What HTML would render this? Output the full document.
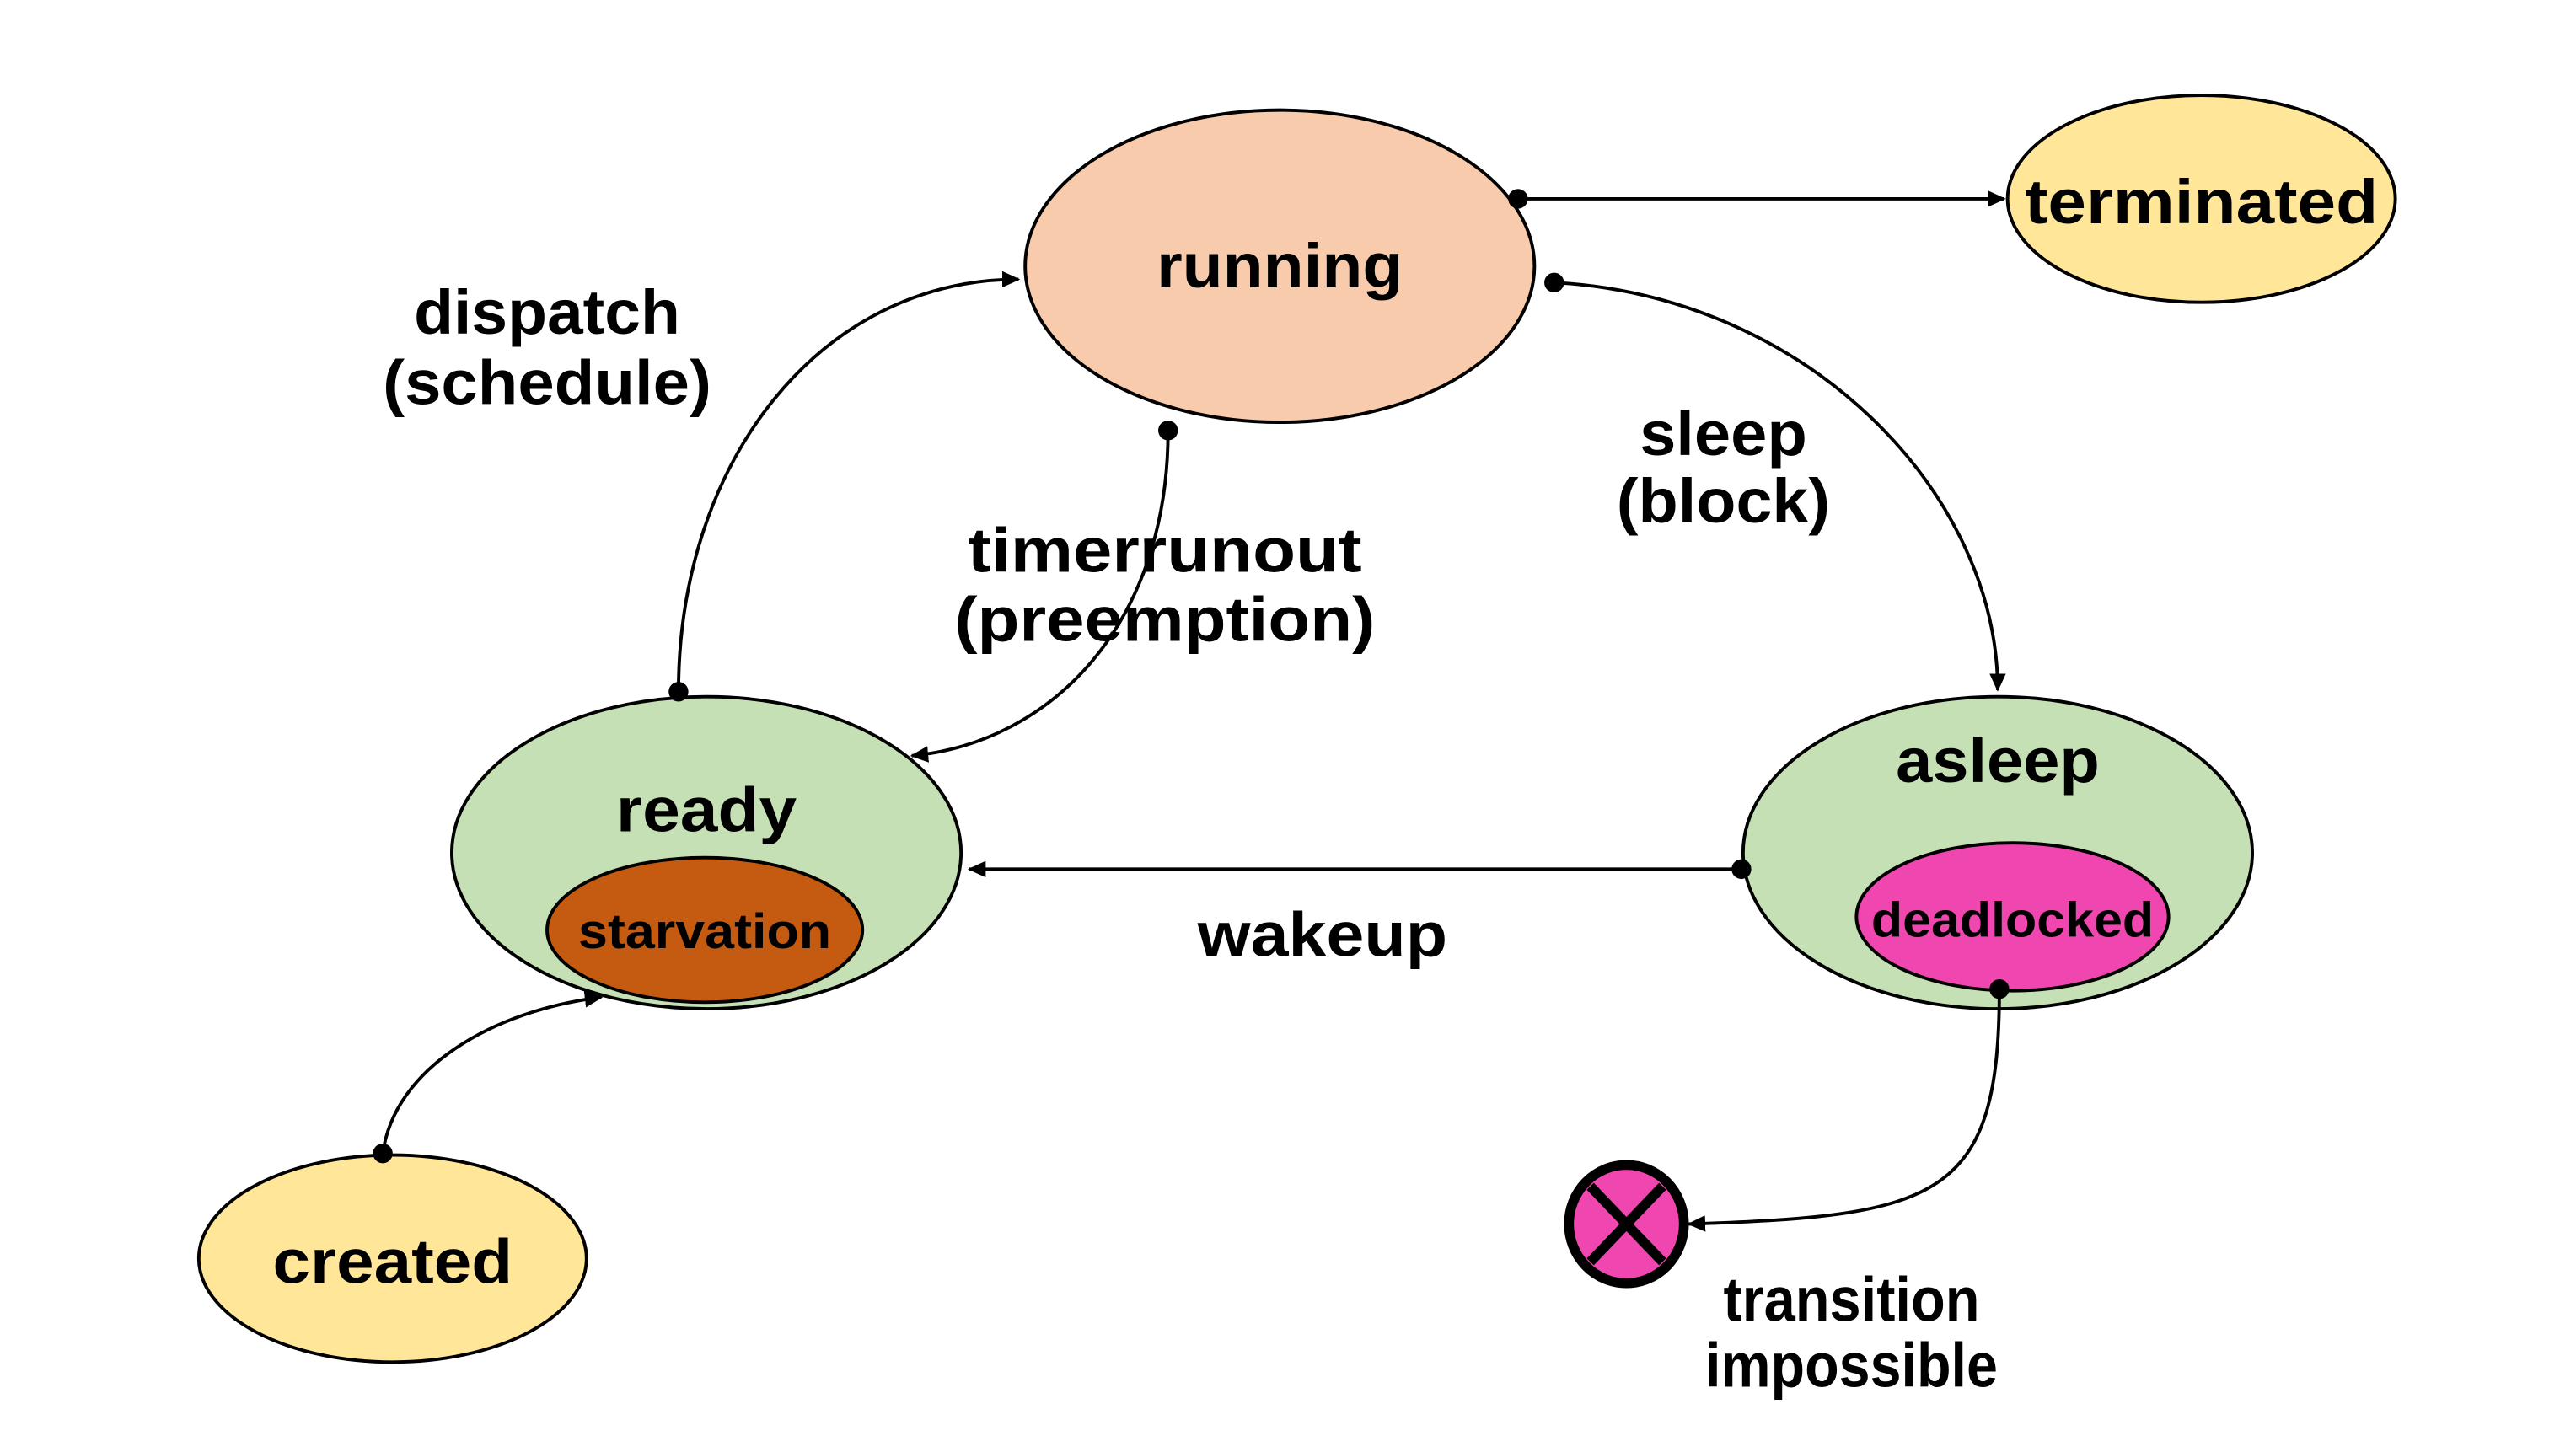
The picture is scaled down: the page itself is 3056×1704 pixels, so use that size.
<!DOCTYPE html>
<html><head><meta charset="utf-8"><style>
html,body{margin:0;padding:0;background:#fff;}
svg{display:block;}
text{font-family:"Liberation Sans",sans-serif;font-weight:bold;fill:#000;text-anchor:middle;}
</style></head><body>
<svg width="3056" height="1704" viewBox="0 0 1568 874" preserveAspectRatio="none" xmlns="http://www.w3.org/2000/svg">
<defs>
<marker id="a" markerWidth="12" markerHeight="12" refX="10" refY="6" orient="auto" markerUnits="userSpaceOnUse">
<path d="M0,1 L11,6 L0,11 Z" fill="#000"/></marker>
</defs>
<g stroke="#000" stroke-width="2">
<ellipse cx="779" cy="162" rx="155" ry="95" fill="#f8cbad"/>
<ellipse cx="1340" cy="121" rx="118" ry="63" fill="#ffe699"/>
<ellipse cx="430" cy="519" rx="155" ry="95" fill="#c5e0b4"/>
<ellipse cx="429" cy="566" rx="96" ry="44" fill="#c55a11"/>
<ellipse cx="1216" cy="519" rx="155" ry="95" fill="#c5e0b4"/>
<ellipse cx="1225" cy="558" rx="95" ry="45" fill="#f046b0"/>
<ellipse cx="239" cy="766" rx="118" ry="63" fill="#ffe699"/>
</g>
<g stroke="#000" stroke-width="2" fill="none" marker-end="url(#a)">
<path d="M924,121 L1220,121"/>
<path d="M413,421 C413,280 500,170 620,170"/>
<path d="M711,262 C711,380 640,452 555,460"/>
<path d="M946,172 C1100,180 1216,300 1216,420"/>
<path d="M1060,529 L590,529"/>
<path d="M233,702 C240,650 300,615 366,607"/>
<path d="M1217,602 C1217,730 1180,740 1028,745"/>
</g>
<g fill="#000">
<circle cx="924" cy="121" r="6"/><circle cx="413" cy="421" r="6"/><circle cx="711" cy="262" r="6"/>
<circle cx="946" cy="172" r="6"/><circle cx="1060" cy="529" r="6"/><circle cx="233" cy="702" r="6"/>
<circle cx="1217" cy="602" r="6"/>
</g>
<g>
<ellipse cx="990" cy="745" rx="35" ry="36" fill="#f046b0" stroke="#000" stroke-width="6"/>
<path d="M968,722 L1012,768 M1012,722 L968,768" stroke="#000" stroke-width="6"/>
</g>
<g font-size="38">
<text x="779" y="175" textLength="150" lengthAdjust="spacingAndGlyphs">running</text>
<text x="1340" y="136" textLength="215" lengthAdjust="spacingAndGlyphs">terminated</text>
<text x="430" y="506" textLength="110" lengthAdjust="spacingAndGlyphs">ready</text>
<text x="1216" y="476" textLength="124" lengthAdjust="spacingAndGlyphs">asleep</text>
<text x="239" y="781" textLength="146" lengthAdjust="spacingAndGlyphs">created</text>
<text x="333" y="203" textLength="162" lengthAdjust="spacingAndGlyphs">dispatch</text>
<text x="333" y="246" textLength="200" lengthAdjust="spacingAndGlyphs">(schedule)</text>
<text x="709" y="348" textLength="240" lengthAdjust="spacingAndGlyphs">timerrunout</text>
<text x="709" y="390" textLength="256" lengthAdjust="spacingAndGlyphs">(preemption)</text>
<text x="1049" y="277" textLength="102" lengthAdjust="spacingAndGlyphs">sleep</text>
<text x="1049" y="318" textLength="130" lengthAdjust="spacingAndGlyphs">(block)</text>
<text x="805" y="582" textLength="152" lengthAdjust="spacingAndGlyphs">wakeup</text>
<text x="1127" y="804" textLength="156" lengthAdjust="spacingAndGlyphs">transition</text>
<text x="1127" y="844" textLength="178" lengthAdjust="spacingAndGlyphs">impossible</text>
</g>
<g font-size="30">
<text x="429" y="577" textLength="154" lengthAdjust="spacingAndGlyphs">starvation</text>
<text x="1225" y="570" textLength="172" lengthAdjust="spacingAndGlyphs">deadlocked</text>
</g>
</svg>
</body></html>
